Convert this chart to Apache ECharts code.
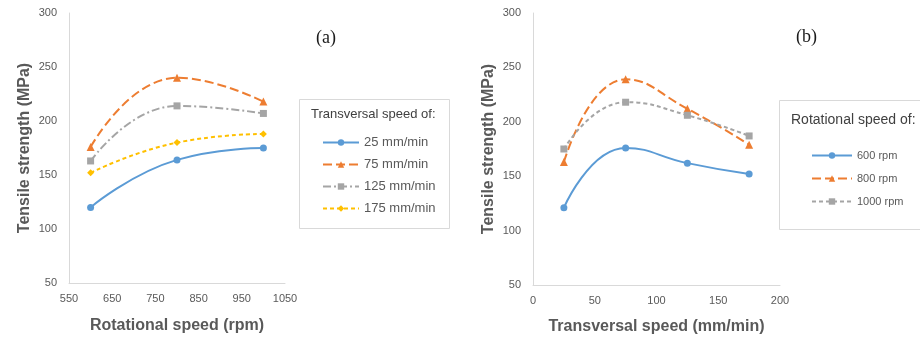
<!DOCTYPE html>
<html>
<head>
<meta charset="utf-8">
<script src="https://cdn.jsdelivr.net/npm/echarts@6/dist/echarts.min.js"></script>
<style>
  html, body { margin: 0; padding: 0; background: #fff; }
  #chart { width: 920px; height: 341px; }
</style>
</head>
<body>
<div id="chart"></div>
<script>
// (a) tensile strength vs rotational speed, one line per transversal speed
const rotSpeed = [600, 800, 1000];
const ts25 = [120, 164, 175];
const ts75 = [176, 240, 218];
const ts125 = [163, 214, 207];
const ts175 = [152, 180, 188];
const rotTicks = [550, 650, 750, 850, 950, 1050];

// (b) tensile strength vs transversal speed, one line per rotational speed
const travSpeed = [25, 75, 125, 175];
const ts600 = [121, 176, 162, 152];
const ts800 = [163, 239, 212, 179];
const ts1000 = [175, 218, 206, 187];

const FONT = 'Liberation Sans';
const AXIS_TXT = '#595959';
const AXIS_LINE = '#d9d9d9';
const BLUE = '#5b9bd5', ORANGE = '#ed7d31', GRAY = '#a5a5a5', GOLD = '#ffc000';

const pairs = (xs, ys) => xs.map((x, i) => [x, ys[i]]);

function lineSeries(name, xIdx, xs, ys, color, symbol, dash) {
  return {
    name, type: 'line', xAxisIndex: xIdx, yAxisIndex: xIdx,
    data: pairs(xs, ys), smooth: 0.5,
    symbol, symbolSize: symbol === 'triangle' ? 8 : 7,
    itemStyle: { color },
    lineStyle: { color, width: 2, type: dash },
    emphasis: { disabled: true }
  };
}

const yAxisCommon = (gi) => ({
  type: 'value', gridIndex: gi, min: 50, max: 300, interval: 50,
  name: 'Tensile strength (MPa)', nameLocation: 'middle', nameGap: 36,
  nameTextStyle: { fontFamily: FONT, fontWeight: 'bold', fontSize: 16, color: AXIS_TXT },
  axisLine: { show: true, lineStyle: { color: AXIS_LINE } },
  axisTick: { show: false },
  splitLine: { show: false },
  axisLabel: { fontFamily: FONT, fontSize: 11, color: AXIS_TXT, margin: 12 }
});

const xName = { fontFamily: FONT, fontWeight: 'bold', fontSize: 16, color: AXIS_TXT };
const xLabel = { fontFamily: FONT, fontSize: 11, color: AXIS_TXT, margin: 10, formatter: v => String(v) };

const chart = echarts.init(document.getElementById('chart'), null, { renderer: 'canvas' });
chart.setOption({
  animation: false,
  backgroundColor: '#fff',
  grid: [
    { left: 69, top: 13, width: 216, height: 270 },
    { left: 533, top: 13, width: 247, height: 272 }
  ],
  xAxis: [
    {
      type: 'value', gridIndex: 0, min: 550, max: 1050,
      name: 'Rotational speed (rpm)', nameLocation: 'middle', nameGap: 35,
      nameTextStyle: xName,
      axisLine: { lineStyle: { color: AXIS_LINE } },
      axisTick: { show: false, customValues: rotTicks },
      splitLine: { show: false },
      axisLabel: Object.assign({ customValues: rotTicks }, xLabel)
    },
    {
      type: 'value', gridIndex: 1, min: 0, max: 200, interval: 50,
      name: 'Transversal speed (mm/min)', nameLocation: 'middle', nameGap: 34,
      nameTextStyle: xName,
      axisLine: { lineStyle: { color: AXIS_LINE } },
      axisTick: { show: false },
      splitLine: { show: false },
      axisLabel: xLabel
    }
  ],
  yAxis: [yAxisCommon(0), yAxisCommon(1)],
  legend: [
    {
      orient: 'vertical', left: 317, top: 131,
      itemWidth: 36, itemHeight: 8, itemGap: 9,
      textStyle: { fontFamily: FONT, fontSize: 13, color: AXIS_TXT },
      data: ['25 mm/min', '75 mm/min', '125 mm/min', '175 mm/min'],
      selectedMode: false
    },
    {
      orient: 'vertical', left: 806, top: 145,
      itemWidth: 40, itemHeight: 8, itemGap: 12,
      textStyle: { fontFamily: FONT, fontSize: 11, color: AXIS_TXT },
      data: ['600 rpm', '800 rpm', '1000 rpm'],
      selectedMode: false
    }
  ],
  graphic: [
    { type: 'rect', shape: { x: 299.5, y: 99.5, width: 150, height: 129 },
      style: { fill: '#fff', stroke: AXIS_LINE, lineWidth: 1 }, z: -1 },
    { type: 'text', left: 311, top: 108,
      style: { text: 'Transversal speed of:', font: '13px "Liberation Sans"', fill: '#404040' } },
    { type: 'rect', shape: { x: 779.5, y: 100.5, width: 160, height: 129 },
      style: { fill: '#fff', stroke: AXIS_LINE, lineWidth: 1 }, z: -1 },
    { type: 'text', left: 791, top: 113,
      style: { text: 'Rotational speed of:', font: '14px "Liberation Sans"', fill: '#404040' } },
    { type: 'text', left: 316, top: 29,
      style: { text: '(a)', font: '18px "Liberation Serif"', fill: '#1a1a1a' } },
    { type: 'text', left: 796, top: 28,
      style: { text: '(b)', font: '18px "Liberation Serif"', fill: '#1a1a1a' } }
  ],
  series: [
    lineSeries('25 mm/min', 0, rotSpeed, ts25, BLUE, 'circle', 'solid'),
    lineSeries('75 mm/min', 0, rotSpeed, ts75, ORANGE, 'triangle', [9, 4]),
    lineSeries('125 mm/min', 0, rotSpeed, ts125, GRAY, 'rect', [8, 3, 2, 3]),
    lineSeries('175 mm/min', 0, rotSpeed, ts175, GOLD, 'diamond', [4, 3]),
    lineSeries('600 rpm', 1, travSpeed, ts600, BLUE, 'circle', 'solid'),
    lineSeries('800 rpm', 1, travSpeed, ts800, ORANGE, 'triangle', [9, 4]),
    lineSeries('1000 rpm', 1, travSpeed, ts1000, GRAY, 'rect', [4, 3])
  ]
});
</script>
</body>
</html>
